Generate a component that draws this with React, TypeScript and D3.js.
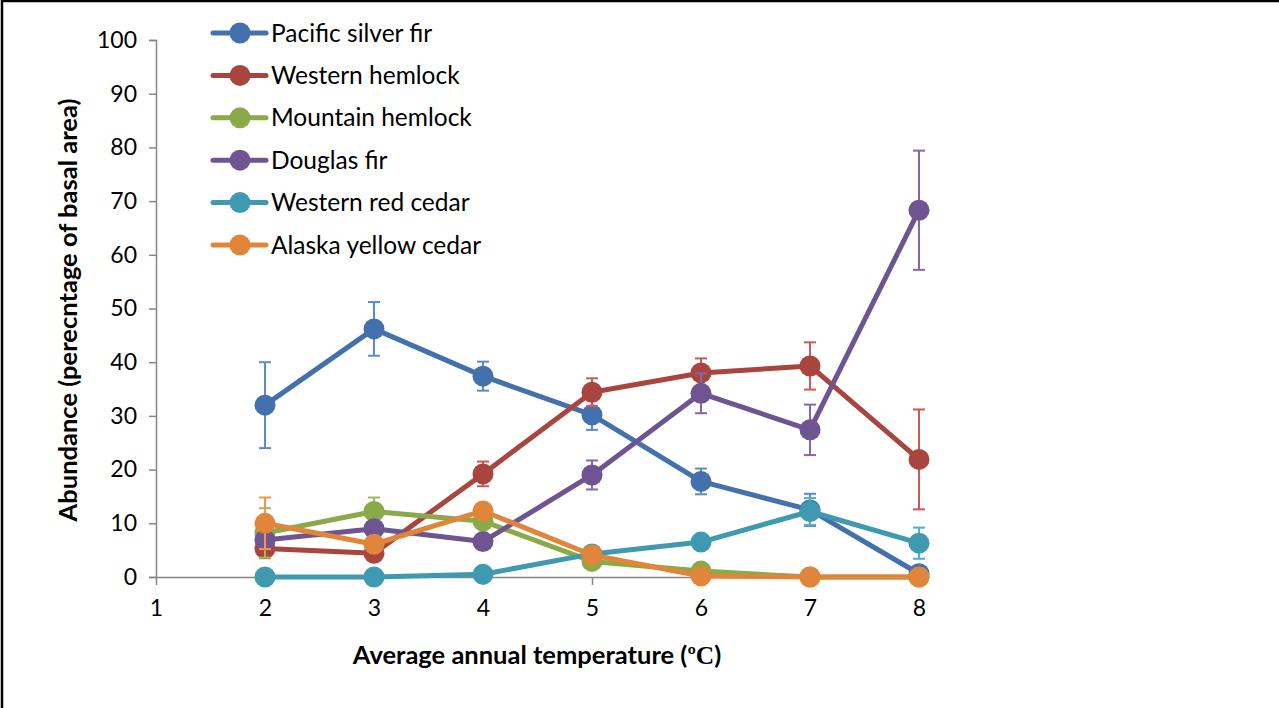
import * as d3 from 'd3';
import React, { useEffect, useRef } from 'react';

// chart values
const temps = [2, 3, 4, 5, 6, 7, 8];
const speciesNames = [
  'Pacific silver fir',
  'Western hemlock',
  'Mountain hemlock',
  'Douglas fir',
  'Western red cedar',
  'Alaska yellow cedar'
];
const pacificSilverFir = [32.0, 46.2, 37.4, 30.2, 17.8, 12.5, 0.6];
const pacificSilverFirErr = [8.0, 5.0, 2.7, 2.8, 2.4, 3.0, 0];
const westernHemlock = [5.3, 4.4, 19.2, 34.4, 38.0, 39.3, 21.9];
const westernHemlockErr = [1.8, 1.0, 2.3, 2.6, 2.7, 4.4, 9.3];
const mountainHemlock = [8.2, 12.2, 10.4, 2.9, 1.1, 0, 0];
const mountainHemlockErr = [4.6, 2.6, 1.0, 0.5, 0, 0, 0];
const douglasFir = [6.9, 9.0, 6.6, 19.0, 34.2, 27.4, 68.3];
const douglasFirErr = [1.0, 1.0, 0.8, 2.7, 3.7, 4.7, 11.1];
const westernRedCedar = [0, 0, 0.5, 4.3, 6.5, 12.2, 6.3];
const westernRedCedarErr = [0, 0, 0, 0.3, 0, 2.5, 2.9];
const alaskaYellowCedar = [10.0, 6.1, 12.3, 4.1, 0.2, 0, 0];
const alaskaYellowCedarErr = [4.8, 1.0, 1.0, 0.5, 0, 0, 0];

const lineColors = ['#4271AE', '#AA443F', '#8AAA4A', '#6E5592', '#3F9AB1', '#E08539'];
const errColors = ['#5A8BCB', '#C95B56', '#9DBD5C', '#8468A8', '#4FB0CB', '#F5954A'];

const yTicks = [0, 10, 20, 30, 40, 50, 60, 70, 80, 90, 100];
const xTicks = [1, 2, 3, 4, 5, 6, 7, 8];

const W = 1279;
const H = 708;
const FONT = 'Lato, "Open Sans", sans-serif';

export default function App() {
  const svgRef = useRef<SVGSVGElement>(null);

  useEffect(() => {
    document.body.style.margin = '0';
    const svg = d3.select(svgRef.current);
    svg.selectAll('*').remove();

    const x = d3.scaleLinear().domain([1, 8]).range([156, 919]);
    const y = d3.scaleLinear().domain([0, 100]).range([577, 40]);

    const values = [
      pacificSilverFir,
      westernHemlock,
      mountainHemlock,
      douglasFir,
      westernRedCedar,
      alaskaYellowCedar
    ];
    const errors = [
      pacificSilverFirErr,
      westernHemlockErr,
      mountainHemlockErr,
      douglasFirErr,
      westernRedCedarErr,
      alaskaYellowCedarErr
    ];

    // outer frame (top and left edges only)
    svg.append('line').attr('x1', 2).attr('x2', W).attr('y1', 1).attr('y2', 1)
      .attr('stroke', '#000').attr('stroke-width', 2.5);
    svg.append('line').attr('x1', 2).attr('x2', 2).attr('y1', 0).attr('y2', H)
      .attr('stroke', '#000').attr('stroke-width', 2.5);

    // y axis
    const yAxis = svg.append('g')
      .attr('transform', 'translate(156,0)')
      .call(d3.axisLeft(y).tickValues(yTicks).tickSize(7).tickPadding(12));
    yAxis.select('.domain').attr('stroke', '#868686').attr('stroke-width', 1.5);
    yAxis.selectAll('.tick line').attr('stroke', '#868686').attr('stroke-width', 1.5);
    yAxis.selectAll('.tick text')
      .attr('font-family', FONT).attr('font-size', 23).attr('fill', '#000');

    // x axis
    const xAxis = svg.append('g')
      .attr('transform', 'translate(0,577)')
      .call(d3.axisBottom(x).tickValues(xTicks).tickSize(8).tickSizeOuter(0).tickPadding(15)
        .tickFormat(d3.format('d')));
    xAxis.select('.domain').attr('stroke', '#868686').attr('stroke-width', 1.5);
    xAxis.selectAll('.tick line').attr('stroke', '#868686').attr('stroke-width', 1.5);
    xAxis.selectAll('.tick text')
      .attr('font-family', FONT).attr('font-size', 23).attr('fill', '#000');

    // axis titles
    const xTitle = svg.append('text')
      .attr('x', 537).attr('y', 664)
      .attr('text-anchor', 'middle')
      .attr('font-family', FONT).attr('font-size', 25.5).attr('font-weight', 'bold');
    xTitle.append('tspan').text('Average annual temperature (');
    xTitle.append('tspan').attr('font-family', '"Liberation Serif", serif').text('ºC');
    xTitle.append('tspan').text(')');

    svg.append('text')
      .attr('transform', 'translate(77,310) rotate(-90)')
      .attr('text-anchor', 'middle')
      .attr('font-family', FONT).attr('font-size', 25.5).attr('font-weight', 'bold')
      .text('Abundance (perecntage of basal area)');

    const line = d3.line<number>()
      .x((_d, i) => x(temps[i]))
      .y((d) => y(d));

    values.forEach((vals, s) => {
      const g = svg.append('g');
      // error bars behind the line and markers
      vals.forEach((v, i) => {
        const e = errors[s][i];
        if (e <= 0) return;
        const cx = x(temps[i]);
        g.append('line').attr('x1', cx).attr('x2', cx)
          .attr('y1', y(v - e)).attr('y2', y(v + e))
          .attr('stroke', errColors[s]).attr('stroke-width', 2);
        [v - e, v + e].forEach((b) => {
          g.append('line').attr('x1', cx - 6).attr('x2', cx + 6)
            .attr('y1', y(b)).attr('y2', y(b))
            .attr('stroke', errColors[s]).attr('stroke-width', 2);
        });
      });
      g.append('path').attr('d', line(vals))
        .attr('fill', 'none').attr('stroke', lineColors[s])
        .attr('stroke-width', 5).attr('stroke-linejoin', 'round');
      g.selectAll('circle').data(vals).enter().append('circle')
        .attr('cx', (_d, i) => x(temps[i]))
        .attr('cy', (d) => y(d))
        .attr('r', 10.5)
        .attr('fill', lineColors[s]);
    });

    // legend
    const legend = svg.append('g');
    speciesNames.forEach((name, s) => {
      const ly = 33 + s * 42.4;
      legend.append('line').attr('x1', 213).attr('x2', 266).attr('y1', ly).attr('y2', ly)
        .attr('stroke', lineColors[s]).attr('stroke-width', 5).attr('stroke-linecap', 'round');
      legend.append('circle').attr('cx', 240).attr('cy', ly).attr('r', 10.5).attr('fill', lineColors[s]);
      legend.append('text').attr('x', 271).attr('y', ly + 8.5)
        .attr('font-family', FONT).attr('font-size', 24.5).text(name);
    });
  }, []);

  return (
    <svg ref={svgRef} width={W} height={H} style={{ display: 'block', background: '#fff' }} />
  );
}
